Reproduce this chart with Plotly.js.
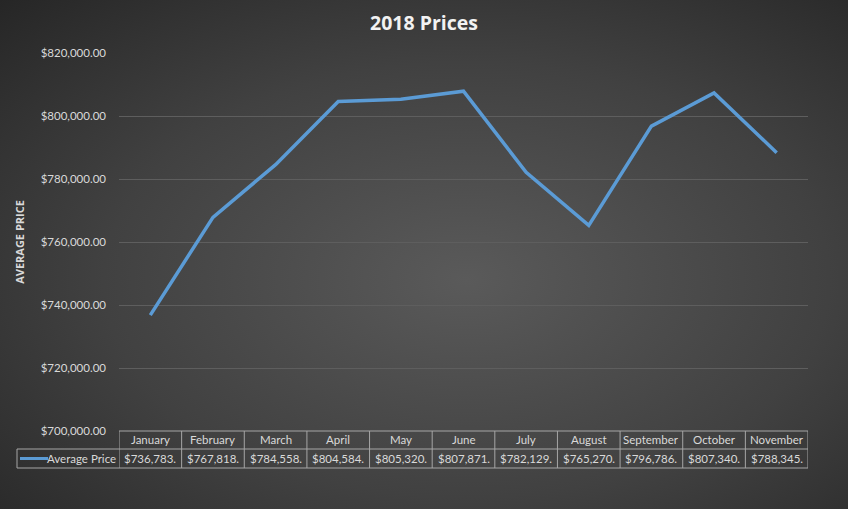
<!DOCTYPE html>
<html>
<head>
<meta charset="utf-8">
<script src="https://cdn.plot.ly/plotly-3.0.1.min.js"></script>
<style>
html,body{margin:0;padding:0;}
body{width:848px;height:509px;background:radial-gradient(ellipse at 55% 55%, #5a5a5a 0%, #414141 55%, #262626 100%);}
#chart{width:848px;height:509px;}
</style>
</head>
<body>
<div id="chart"></div>
<script>
const months = ["January","February","March","April","May","June","July","August","September","October","November"];
const avgPrice = [736783, 767818, 784558, 804584, 805320, 807871, 782129, 765270, 796786, 807340, 788345];
const seriesName = "Average Price";
const yTickVals = [700000, 720000, 740000, 760000, 780000, 800000, 820000];

const lineColor = "#5b9bd5";
const textColor = "#d9d9d9";
const gridColor = "#5e5e5e";
const tableLine = "#a6a6a6";
const fontFam = "Lato, 'Open Sans', sans-serif";

// table geometry in paper coordinates (plot area height 378px)
const plotH = 378, plotW = 689;
const rowTop = 0, rowMid = -18/plotH, rowBot = -37/plotH;
const legLeft = -102/plotW;

const n = months.length;
const fmt = v => "$" + v.toLocaleString("en-US") + ".";

const shapes = [];
const annotations = [];
shapes.push({type:"line", xref:"x", yref:"paper", x0:-0.5, x1:n-0.5, y0:rowTop, y1:rowTop, line:{color:tableLine,width:1}});
shapes.push({type:"line", xref:"paper", yref:"paper", x0:legLeft, x1:1, y0:rowMid, y1:rowMid, line:{color:tableLine,width:1}});
shapes.push({type:"line", xref:"paper", yref:"paper", x0:legLeft, x1:1, y0:rowBot, y1:rowBot, line:{color:tableLine,width:1}});
for (let i = 0; i <= n; i++) {
  shapes.push({type:"line", xref:"x", yref:"paper", x0:i-0.5, x1:i-0.5, y0:rowTop, y1:rowBot, line:{color:tableLine,width:1}});
}
shapes.push({type:"line", xref:"paper", yref:"paper", x0:legLeft, x1:legLeft, y0:rowMid, y1:rowBot, line:{color:tableLine,width:1}});
shapes.push({type:"line", xref:"paper", yref:"paper", x0:legLeft+3/plotW, x1:legLeft+31/plotW, y0:(rowMid+rowBot)/2, y1:(rowMid+rowBot)/2, line:{color:lineColor,width:3}});

months.forEach((m, i) => {
  annotations.push({xref:"x", yref:"paper", x:i, y:(rowTop+rowMid)/2, text:m, showarrow:false,
    xanchor:"center", yanchor:"middle", font:{family:fontFam, size:11.5, color:textColor}});
  annotations.push({xref:"x", yref:"paper", x:i, y:(rowMid+rowBot)/2, text:fmt(avgPrice[i]), showarrow:false,
    xanchor:"center", yanchor:"middle", font:{family:fontFam, size:11.5, color:textColor}});
});
annotations.push({xref:"paper", yref:"paper", x:-1/plotW, y:(rowMid+rowBot)/2, text:seriesName, showarrow:false,
  xanchor:"right", yanchor:"middle", font:{family:fontFam, size:11.5, color:textColor}});

const trace = {
  type:"scatter", mode:"lines", name:seriesName,
  x: months.map((m,i)=>i), y: avgPrice,
  line:{color:lineColor, width:3.5}, hoverinfo:"skip"
};

const layout = {
  width:848, height:509,
  paper_bgcolor:"rgba(0,0,0,0)", plot_bgcolor:"rgba(0,0,0,0)",
  margin:{l:119, r:40, t:53, b:78},
  showlegend:false,
  title:{text:"<b>2018 Prices</b>", x:0.5, xanchor:"center", y:0.955, yanchor:"middle",
    font:{family:"'Open Sans', sans-serif", size:19.5, color:"#f2f2f2"}},
  xaxis:{range:[-0.5, n-0.5], showticklabels:false, showgrid:false, zeroline:false, showline:false, fixedrange:true},
  yaxis:{range:[700000, 820000], tickvals:yTickVals, tickformat:"$,.2f",
    showgrid:true, gridcolor:gridColor, gridwidth:1, zeroline:false, showline:false,
    ticks:"", ticklabelstandoff:12,
    tickfont:{family:fontFam, size:11.5, color:textColor},
    title:{text:"<b>AVERAGE PRICE</b>", standoff:13, font:{family:"'Open Sans', sans-serif", size:11, color:textColor}},
    automargin:false, fixedrange:true},
  shapes:shapes, annotations:annotations
};

Plotly.newPlot("chart", [trace], layout, {displayModeBar:false, staticPlot:true});
</script>
</body>
</html>
